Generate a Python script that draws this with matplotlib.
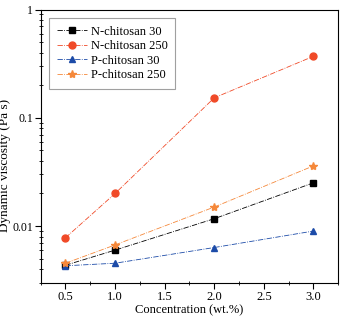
import matplotlib
matplotlib.use("Agg")
import matplotlib.pyplot as plt
from matplotlib.ticker import MultipleLocator, FixedLocator, NullFormatter

plt.rcParams['font.family'] = ['Liberation Serif', 'DejaVu Serif']

# Data
conc = [0.5, 1.0, 2.0, 3.0]
n_chitosan_30 = [0.00435, 0.0060, 0.0117, 0.0251]
n_chitosan_250 = [0.0078, 0.020, 0.153, 0.37]
p_chitosan_30 = [0.0043, 0.00454, 0.00634, 0.0090]
p_chitosan_250 = [0.00454, 0.0067, 0.015, 0.036]

fig = plt.figure(figsize=(3.42, 3.18), dpi=100)
ax = fig.add_axes([0.119, 0.111, 0.870, 0.859])

ax.plot(conc, n_chitosan_30, color='black', ls='-.', lw=0.6, marker='s', ms=4.5, label='N-chitosan 30')
ax.plot(conc, n_chitosan_250, color='#f04a28', ls='-.', lw=0.6, marker='o', ms=5, label='N-chitosan 250')
ax.plot(conc, p_chitosan_30, color='#1c4ba8', ls='-.', lw=0.6, marker='^', ms=5, label='P-chitosan 30')
ax.plot(conc, p_chitosan_250, color='#f5883a', ls='-.', lw=0.6, marker='*', ms=6, label='P-chitosan 250')

ax.set_yscale('log')
ax.set_xlim(0.25, 3.25)
ax.set_ylim(0.003, 1)
ax.xaxis.set_major_locator(FixedLocator([0.5, 1.0, 1.5, 2.0, 2.5, 3.0]))
ax.xaxis.set_minor_locator(MultipleLocator(0.25))
ax.set_yticks([0.01, 0.1, 1])
ax.set_yticklabels(['0.01', '0.1', '1'])
ax.yaxis.set_minor_formatter(NullFormatter())
ax.tick_params(which='both', labelsize=9, pad=2)
ax.tick_params(axis='y', labelsize=8.5, pad=1.5)
ax.tick_params(which='major', direction='out', length=4)
ax.tick_params(which='minor', direction='inout', length=3)

ax.set_xlabel('Concentration (wt.%)', fontsize=9, labelpad=1)
ax.set_ylabel('Dynamic viscosity (Pa s)', fontsize=9.5)
ax.yaxis.set_label_coords(-0.1, 0.43)

leg = ax.legend(loc='upper left', fontsize=9, fancybox=False, edgecolor='#888888',
                handlelength=2.4, borderpad=0.6, labelspacing=0.2, handletextpad=0.3,
                borderaxespad=0.7)
leg.get_frame().set_linewidth(0.8)

fig.savefig('out.png', dpi=100)
